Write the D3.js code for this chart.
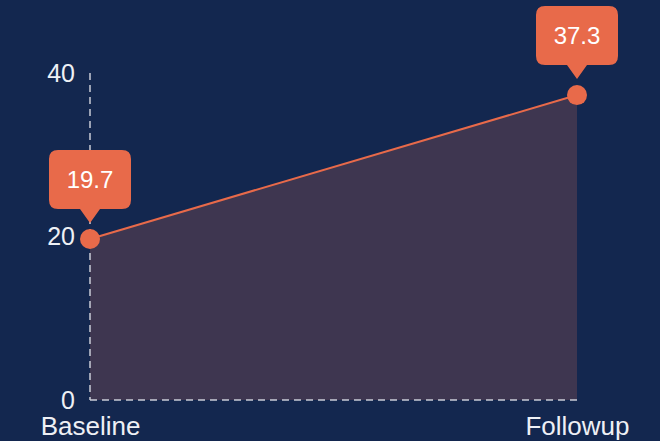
<!DOCTYPE html>
<html>
<head>
<meta charset="utf-8">
<script src="https://cdn.jsdelivr.net/npm/d3@7"></script>
<style>
  html, body { margin: 0; padding: 0; background: #13274f; }
  svg { display: block; font-family: "Liberation Sans", Arial, sans-serif; }
</style>
</head>
<body>
<svg id="chart" width="660" height="441"></svg>
<script>
// Survey score at two time points
const categories = ["Baseline", "Followup"];
const values = [19.7, 37.3];
const yTicks = [0, 20, 40];

const W = 660, H = 441;
const margin = { left: 90, right: 83, top: 73, bottom: 41 };

const svg = d3.select("#chart");
svg.append("rect").attr("width", W).attr("height", H).attr("fill", "#13274f");

const x = d3.scalePoint().domain(categories).range([margin.left, W - margin.right]);
const y = d3.scaleLinear().domain([0, 40]).range([H - margin.bottom, margin.top]);

const data = categories.map((c, i) => ({ c, v: values[i] }));

// filled area under the line
const area = d3.area().x(d => x(d.c)).y0(y(0)).y1(d => y(d.v));
svg.append("path").datum(data).attr("d", area).attr("fill", "#3e3650");

// dashed axes
const axisColor = "#c9cbd6";
svg.append("line")
  .attr("x1", x(categories[0])).attr("x2", x(categories[0]))
  .attr("y1", y(40)).attr("y2", y(0))
  .attr("stroke", axisColor).attr("stroke-width", 1.5).attr("stroke-dasharray", "7,5");
svg.append("line")
  .attr("x1", x(categories[0])).attr("x2", x(categories[1]))
  .attr("y1", y(0)).attr("y2", y(0))
  .attr("stroke", axisColor).attr("stroke-width", 1.5).attr("stroke-dasharray", "7,5");

// y tick labels
const yAxis = d3.axisLeft(y).tickValues(yTicks).tickSize(0).tickPadding(15);
const gy = svg.append("g").attr("transform", `translate(${x(categories[0])},0)`).call(yAxis);
gy.select(".domain").remove();
gy.selectAll("text").attr("fill", "#eef0f5").attr("font-size", 25)
  .attr("font-family", "Liberation Sans, Arial, sans-serif");

// x category labels
const xAxis = d3.axisBottom(x).tickSize(0).tickPadding(17);
const gx = svg.append("g").attr("transform", `translate(0,${y(0)})`).call(xAxis);
gx.select(".domain").remove();
gx.selectAll("text").attr("fill", "#eef0f5").attr("font-size", 26)
  .attr("font-family", "Liberation Sans, Arial, sans-serif");

// line
const orange = "#e86a4a";
const line = d3.line().x(d => x(d.c)).y(d => y(d.v));
svg.append("path").datum(data).attr("d", line)
  .attr("fill", "none").attr("stroke", orange).attr("stroke-width", 2);

// points
svg.selectAll("circle.pt").data(data).join("circle")
  .attr("class", "pt")
  .attr("cx", d => x(d.c)).attr("cy", d => y(d.v)).attr("r", 10)
  .attr("fill", orange);

// value callouts
const boxW = 82, boxH = 59, r = 9, tipH = 14, tipHalf = 10, gap = 16;
function calloutPath(cx, tipY) {
  const b = tipY - tipH;           // bottom of box
  const t = b - boxH;              // top of box
  const l = cx - boxW / 2, rr = cx + boxW / 2;
  return `M${l + r},${t} H${rr - r} Q${rr},${t} ${rr},${t + r} V${b - r} Q${rr},${b} ${rr - r},${b}` +
         ` H${cx + tipHalf} L${cx},${tipY} L${cx - tipHalf},${b} H${l + r} Q${l},${b} ${l},${b - r}` +
         ` V${t + r} Q${l},${t} ${l + r},${t} Z`;
}
const callouts = svg.selectAll("g.callout").data(data).join("g").attr("class", "callout");
callouts.append("path")
  .attr("d", d => calloutPath(x(d.c), y(d.v) - gap))
  .attr("fill", orange);
callouts.append("text")
  .attr("x", d => x(d.c))
  .attr("y", d => y(d.v) - gap - tipH - boxH / 2)
  .attr("text-anchor", "middle").attr("dominant-baseline", "central")
  .attr("fill", "#ffffff").attr("font-size", 24)
  .text(d => d.v.toFixed(1));
</script>
</body>
</html>
